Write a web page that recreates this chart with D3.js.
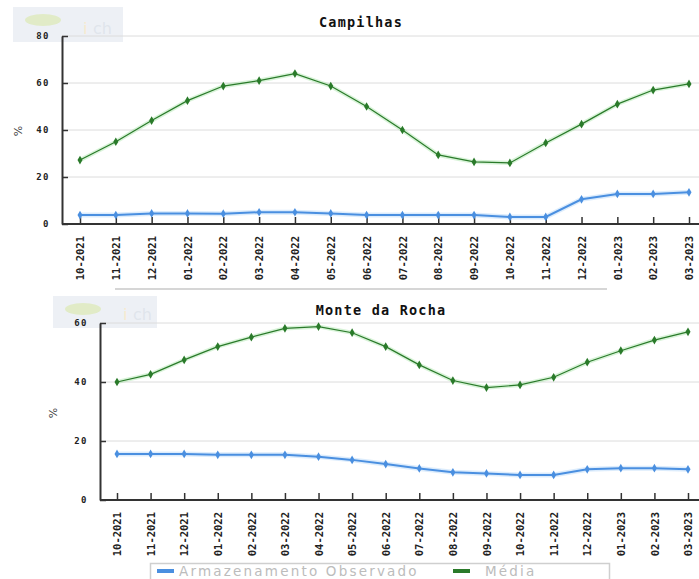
<!DOCTYPE html>
<html>
<head>
<meta charset="utf-8">
<script src="https://cdn.jsdelivr.net/npm/d3@7"></script>
<style>
  body { margin: 0; background: #fff; }
  svg { display: block; }
</style>
</head>
<body>
<div id="svgContainer"></div>
<script>
var width = 699, height = 579;

// months shown on both charts
var months = ["10-2021","11-2021","12-2021","01-2022","02-2022","03-2022","04-2022","05-2022","06-2022",
              "07-2022","08-2022","09-2022","10-2022","11-2022","12-2022","01-2023","02-2023","03-2023"];

// Campilhas (%)
var campObs   = [3.8, 3.8, 4.5, 4.5, 4.4, 5.0, 5.0, 4.5, 3.8, 3.8, 3.8, 3.8, 3.0, 3.0, 10.5, 12.8, 12.8, 13.5];
var campMedia = [27.2, 35, 44, 52.5, 58.7, 61, 64, 58.7, 50, 40, 29.4, 26.4, 26, 34.5, 42.5, 51, 57, 59.6];
var campTicks = [0, 20, 40, 60, 80];

// Monte da Rocha (%)
var rochaObs   = [15.6, 15.6, 15.6, 15.3, 15.3, 15.3, 14.7, 13.6, 12.2, 10.7, 9.4, 9.0, 8.5, 8.5, 10.4, 10.8, 10.8, 10.4];
var rochaMedia = [40, 42.6, 47.5, 52, 55.2, 58.2, 58.8, 56.7, 52, 45.8, 40.5, 38.1, 39, 41.6, 46.7, 50.6, 54.2, 57];
var rochaTicks = [0, 20, 40, 60];

var legendLabels = ["Armazenamento Observado", "Média"];

var blue = "#4a8fe0", green = "#2a7a2a";

var svg = d3.select("#svgContainer").append("svg")
    .attr("width", width).attr("height", height)
    .attr("viewBox", "0 0 " + width + " " + height);

function watermark(x, y, w, h) {
    var g = svg.append("g").attr("opacity", 0.55);
    g.append("rect").attr("x", x).attr("y", y).attr("width", w).attr("height", h).attr("fill", "#dfe5ee");
    g.append("ellipse").attr("cx", x + 30).attr("cy", y + 13).attr("rx", 18).attr("ry", 6).attr("fill", "#c9dc9a");
    g.append("text").attr("x", x + 70).attr("y", y + h - 8)
        .attr("font-family", "DejaVu Sans").attr("font-size", 16).attr("fill", "#f1d9a8")
        .text("i");
    g.append("text").attr("x", x + 80).attr("y", y + h - 8)
        .attr("font-family", "DejaVu Sans").attr("font-size", 16).attr("fill", "#c7d0dc")
        .text("ch");
}

function chart(opt) {
    var x = d3.scalePoint().domain(months).range([opt.x0, opt.x1]);
    var y = d3.scaleLinear().domain([0, opt.ymax]).range([opt.yBottom, opt.yTop]);

    watermark(opt.wm[0], opt.wm[1], opt.wm[2], opt.wm[3]);

    // grid
    svg.append("g").selectAll("line").data(opt.ticks.filter(d => d > 0)).enter().append("line")
        .attr("x1", opt.axisX).attr("x2", width)
        .attr("y1", d => y(d)).attr("y2", d => y(d))
        .attr("stroke", "#dcdcdc").attr("stroke-width", 1);

    // y axis
    var ya = svg.append("g").attr("transform", "translate(" + opt.axisX + ",0)")
        .call(d3.axisLeft(y).tickValues(opt.ticks).tickSize(-6).tickSizeOuter(0).tickPadding(12));
    ya.select(".domain").attr("stroke", "#333").attr("stroke-width", 2);
    ya.selectAll(".tick line").attr("stroke", "#333").attr("stroke-width", 1.5);
    ya.selectAll("text").attr("font-family", "DejaVu Sans Mono").attr("font-weight", "bold")
        .attr("font-size", 9).attr("letter-spacing", 1.5).attr("fill", "#222");

    // x axis
    var xa = svg.append("g").attr("transform", "translate(0," + opt.yBottom + ")")
        .call(d3.axisBottom(x).tickSize(-7).tickSizeOuter(0));
    xa.select(".domain").attr("d", "M" + opt.axisX + ",0H" + width)
        .attr("stroke", "#333").attr("stroke-width", 2);
    xa.selectAll(".tick line").attr("stroke", "#333").attr("stroke-width", 1.5);
    xa.selectAll("text")
        .attr("transform", "rotate(-90)")
        .attr("x", -12).attr("y", 0).attr("dy", "0.35em")
        .style("text-anchor", "end")
        .attr("font-family", "DejaVu Sans Mono").attr("font-weight", "bold")
        .attr("font-size", 10.5).attr("fill", "#222");

    // title
    svg.append("text").attr("x", opt.titleX).attr("y", opt.titleY)
        .attr("text-anchor", "middle")
        .attr("font-family", "DejaVu Sans Mono").attr("font-weight", "bold")
        .attr("font-size", 13.5).attr("letter-spacing", 1.2).attr("fill", "#111")
        .text(opt.title);

    // y label
    svg.append("text").attr("transform", "translate(" + opt.labelX + "," + opt.labelY + ") rotate(-90)")
        .attr("text-anchor", "middle").attr("dy", "0.35em")
        .attr("font-family", "DejaVu Sans").attr("font-size", 11).attr("fill", "#444")
        .text("%");

    var line = d3.line().x((d, i) => x(months[i])).y(d => y(d));
    var diamond = d3.symbol().type(d3.symbolDiamond).size(22);

    function series(vals, col, w, halo) {
        svg.append("path").datum(vals).attr("d", line).attr("fill", "none")
            .attr("stroke", halo).attr("stroke-width", w + 3).attr("stroke-opacity", 0.35);
        svg.append("path").datum(vals).attr("d", line).attr("fill", "none")
            .attr("stroke", col).attr("stroke-width", w);
        svg.append("g").selectAll("path").data(vals).enter().append("path")
            .attr("d", diamond)
            .attr("transform", (d, i) => "translate(" + x(months[i]) + "," + y(d) + ")")
            .attr("fill", col);
    }
    series(opt.obs, blue, 2, "#9cc8f5");
    series(opt.media, green, 1.2, "#8fdc8f");
}

chart({
    title: "Campilhas", titleX: 361, titleY: 27,
    x0: 80, x1: 689, axisX: 62, yTop: 36, yBottom: 224, ymax: 80, ticks: campTicks,
    obs: campObs, media: campMedia, labelX: 18, labelY: 131, wm: [13, 7, 110, 35]
});

// bottom edge of the first chart's legend box
svg.append("line").attr("x1", 115).attr("x2", 607).attr("y1", 289).attr("y2", 289)
    .attr("stroke", "#c8c8c8").attr("stroke-width", 1.5);

chart({
    title: "Monte da Rocha", titleX: 381, titleY: 315,
    x0: 117, x1: 688, axisX: 100, yTop: 323, yBottom: 500, ymax: 60, ticks: rochaTicks,
    obs: rochaObs, media: rochaMedia, labelX: 53, labelY: 413, wm: [53, 296, 104, 32]
});

// legend
var lg = svg.append("g");
lg.append("rect").attr("x", 150.5).attr("y", 563.5).attr("width", 459).attr("height", 20)
    .attr("fill", "#fff").attr("stroke", "#cfcfcf").attr("stroke-width", 1.5);
var legX = [157, 453], legTextX = [179, 485], legCol = [blue, green];
legendLabels.forEach(function (t, i) {
    lg.append("line").attr("x1", legX[i]).attr("x2", legX[i] + 17).attr("y1", 571).attr("y2", 571)
        .attr("stroke", legCol[i]).attr("stroke-width", 4);
    lg.append("text").attr("x", legTextX[i]).attr("y", 576)
        .attr("font-family", "DejaVu Sans").attr("font-size", 13.5).attr("letter-spacing", 2.2)
        .attr("fill", "#bcbcbc").text(t);
});
</script>
</body>
</html>
